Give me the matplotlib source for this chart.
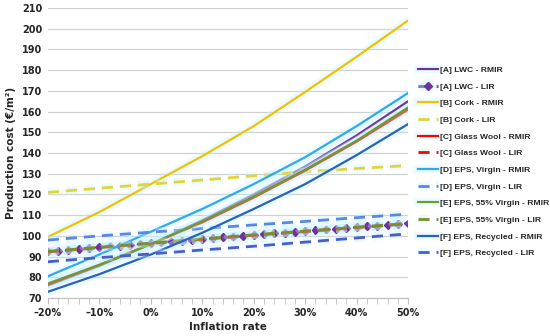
import numpy as np
import matplotlib.pyplot as plt
import matplotlib.patheffects as pe


# Inflation rate (%), read every 10 %.
rates = [-20, -10, 0, 10, 20, 30, 40, 50]
# LWC LIR series is drawn with a marker at every 2 % step.
rates_fine = list(range(-20, 51, 2))

# RMIR series (EUR/m2).
lwc_rmir = [76, 85.5, 96, 107.5, 120, 133.5, 148.5, 165]
cork_rmir = [99.5, 111.5, 125, 138.5, 153, 169.5, 186.5, 204]
glass_rmir = [76.5, 86, 96, 106.5, 118.5, 131.5, 145.5, 161]
eps_virgin_rmir = [80.5, 91, 102, 113, 125, 138, 153, 169]
eps_55_rmir = [77, 86, 96, 107, 119, 132, 146, 162]
eps_recycled_rmir = [73, 81.5, 91, 101.5, 113, 125, 139, 154]

# LIR series (EUR/m2).
lwc_lir = [92.5, 92.9, 93.3, 93.7, 94.1, 94.5, 94.9, 95.3, 95.7, 96.1,
           96.5, 96.9, 97.3, 97.7, 98.1, 98.5, 98.9, 99.3, 99.7, 100.1,
           100.5, 100.9, 101.2, 101.6, 101.9, 102.3, 102.7, 103.1, 103.4,
           103.8, 104.2, 104.6, 104.9, 105.3, 105.6, 106.0]
cork_lir = [121, 123, 125, 127, 129, 131, 132.5, 134]
glass_lir = [92.3, 94.3, 96.3, 98.3, 100.3, 102.1, 104, 105.8]
eps_virgin_lir = [98, 100, 101.8, 103.5, 105.3, 107, 108.8, 110.5]
eps_55_lir = [92.5, 94.5, 96.5, 98.5, 100.5, 102.3, 104.2, 106]
eps_recycled_lir = [87.5, 89.5, 91.3, 93.2, 95, 97, 99, 101]

xticks = [-20, -10, 0, 10, 20, 30, 40, 50]
xlabels = ['\u201320%', '\u201310%', '0%', '10%', '20%', '30%', '40%', '50%']


fig = plt.figure(figsize=(5.5, 3.36), dpi=100)
ax = fig.add_axes([0.087, 0.113, 0.655, 0.863])

glow = [pe.withStroke(linewidth=6, foreground='#c8f4ff', alpha=0.35)]
dash = (0, (4, 2.5))

series = [
    (rates, lwc_rmir, '#7030A0', '-', None, '[A] LWC - RMIR'),
    (rates_fine, lwc_lir, '#7030A0', dash, 'D', '[A] LWC - LIR'),
    (rates, cork_rmir, '#F2C200', '-', None, '[B] Cork - RMIR'),
    (rates, cork_lir, '#E2D43A', dash, None, '[B] Cork - LIR'),
    (rates, glass_rmir, '#FF0000', '-', None, '[C] Glass Wool - RMIR'),
    (rates, glass_lir, '#FF0000', dash, None, '[C] Glass Wool - LIR'),
    (rates, eps_virgin_rmir, '#2FA8EC', '-', None, '[D] EPS, Virgin - RMIR'),
    (rates, eps_virgin_lir, '#5B86E5', dash, None, '[D] EPS, Virgin - LIR'),
    (rates, eps_55_rmir, '#6E9A2E', '-', None, '[E] EPS, 55% Virgin - RMIR'),
    (rates, eps_55_lir, '#7A8F2A', dash, None, '[E] EPS, 55% Virgin - LIR'),
    (rates, eps_recycled_rmir, '#2A62B8', '-', None, '[F] EPS, Recycled - RMIR'),
    (rates, eps_recycled_lir, '#4B5CCB', dash, None, '[F] EPS, Recycled - LIR'),
]

for x, y, color, ls, marker, label in series:
    lw = 1.6 if ls == '-' else 2.0
    ax.plot(x, y, color=color, linestyle=ls, linewidth=lw, marker=marker,
            markersize=4, label=label, path_effects=glow)

ax.set_xlim(-20, 50)
ax.set_ylim(70, 210)
ax.set_yticks(range(70, 211, 10))
ax.set_xticks(xticks)
ax.set_xticklabels(xlabels)
ax.set_xticks(rates_fine, minor=True)
ax.grid(axis='y', color='#d0d0d0', linewidth=0.9)
ax.set_axisbelow(True)

for s in ['left', 'right', 'top']:
    ax.spines[s].set_visible(False)
ax.spines['bottom'].set_color('#bfbfbf')
ax.tick_params(axis='y', length=0, labelsize=7, pad=4)
ax.tick_params(axis='x', which='both', length=4, color='#bfbfbf',
               labelsize=7, pad=3)
for t in ax.get_xticklabels() + ax.get_yticklabels():
    t.set_fontweight('bold')
    t.set_color('#262626')

ax.set_ylabel('Production cost (\u20ac/m\u00b2)', fontsize=7.5,
              fontweight='bold', color='#262626', labelpad=4)
ax.set_xlabel('Inflation rate', fontsize=7.5, fontweight='bold',
              color='#262626', labelpad=3)

leg = ax.legend(loc='center left', bbox_to_anchor=(1.018, 0.47),
                frameon=False, handlelength=2.4, handletextpad=0.2,
                labelspacing=1.03, borderaxespad=0,
                prop={'family': 'Liberation Sans', 'weight': 'bold',
                      'size': 6.1})
for t in leg.get_texts():
    t.set_color('#262626')

fig.savefig('out.png', dpi=100)
